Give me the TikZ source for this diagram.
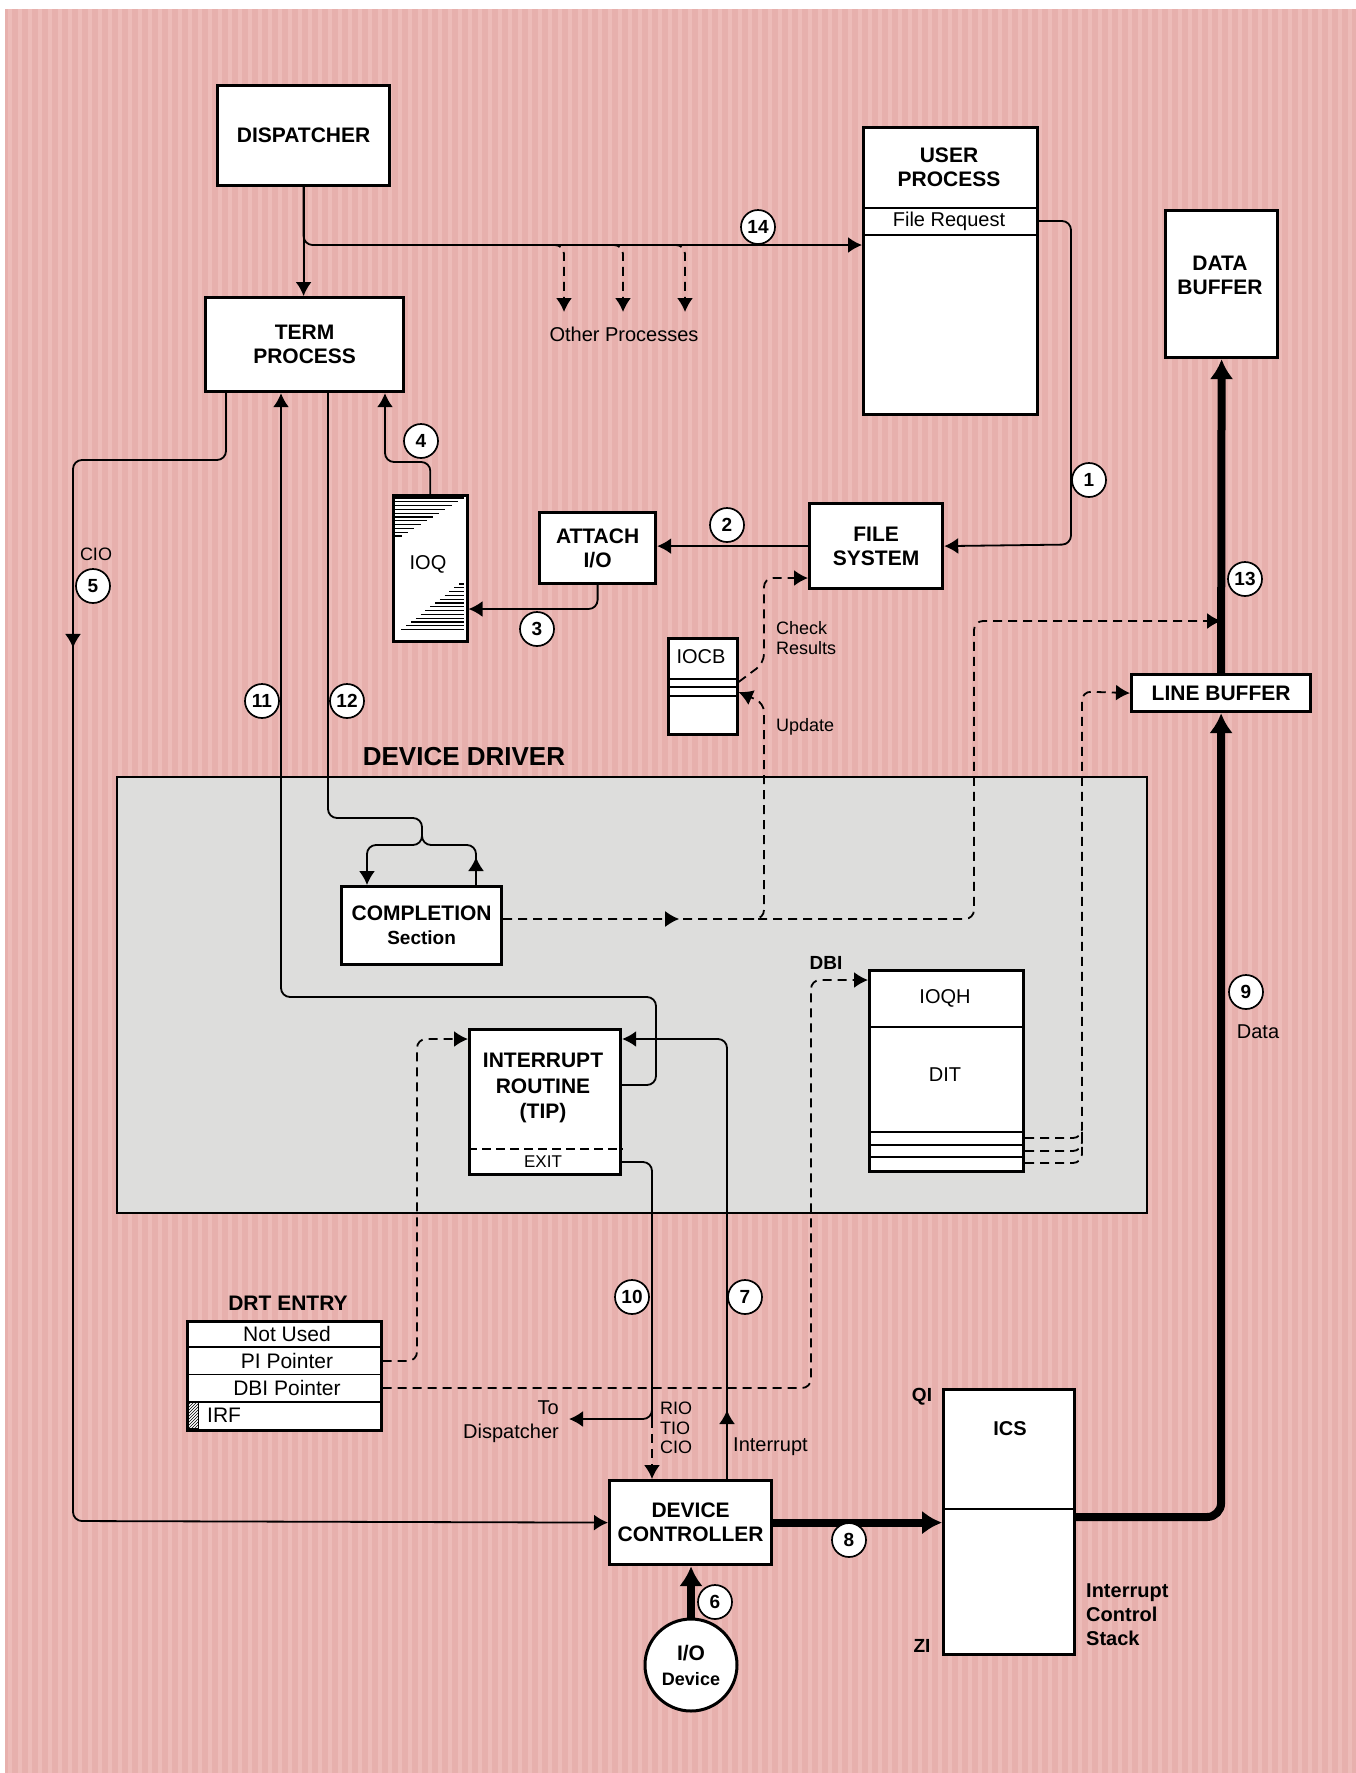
\documentclass[tikz,border=0pt]{standalone}
\usepackage{fontspec}
\setmainfont{Liberation Sans}
\usetikzlibrary{arrows.meta,decorations.markings,patterns,shapes.geometric}
\definecolor{bgpink}{RGB}{231,176,173}
\definecolor{stripepink}{RGB}{237,188,185}
\definecolor{ddgray}{RGB}{221,221,220}
\begin{document}
\begin{tikzpicture}[x=1pt,y=-1pt,
  box/.style={draw, line width=3.2pt, fill=white, inner sep=0pt, align=center, anchor=north west,
              font=\bfseries\fontsize{21}{24}\selectfont},
  btext/.style={inner sep=0pt, align=center, font=\bfseries\fontsize{21}{24}\selectfont},
  lbl/.style={inner sep=0pt, align=center, font=\fontsize{20}{22}\selectfont},
  slbl/.style={inner sep=0pt, align=left, font=\fontsize{18}{20}\selectfont},
  conn/.style={line width=1.8pt, rounded corners=9pt},
  dconn/.style={conn, dash pattern=on 9pt off 6pt},
  arr/.style={-{Latex[length=14pt,width=16pt]}},
  midarr/.style={postaction={decorate, decoration={markings, mark=at position #1 with {\arrow{Latex[length=14pt,width=16pt]}}}}},
  thickc/.style={line width=8pt, -{Latex[length=20pt,width=24pt]}},
  num/.style={circle, draw, line width=1.7pt, fill=white, minimum size=34pt, inner sep=0pt,
              font=\bfseries\fontsize{19}{19}\selectfont},
  thin/.style={line width=1.6pt}
]
\useasboundingbox (0,0) rectangle (1356,1773);
% background
\fill[white] (0,0) rectangle (1356,1773);
\fill[bgpink] (5,9) rectangle (1356,1773);
\foreach \i in {0,...,134} \fill[stripepink] ({8+10*\i},9) rectangle ({12+10*\i},1773);

% device driver region
\node[draw, fill=ddgray, line width=2.4pt, minimum width=1030pt, minimum height=436pt, inner sep=0pt, anchor=north west] (ddrv) at (116,776) {};
\node[font=\bfseries\fontsize{26}{28}\selectfont, inner sep=0pt] (ddtitle) at (464,757) {DEVICE DRIVER};

% boxes
\node[box, minimum width=172pt, minimum height=100pt] (disp) at (216,84) {DISPATCHER};
\node[box, minimum width=198pt, minimum height=94pt] (term) at (204,296) {TERM\\PROCESS};
\node[box, minimum width=174pt, minimum height=287pt] (user) at (862,126) {};
\node[btext] (usertxt) at (949,167) {USER\\PROCESS};
\draw[thin] (user.west |- 0,208) -- (user.east |- 0,208);
\draw[thin] (user.west |- 0,235) -- (user.east |- 0,235);
\node[lbl] (freq) at (949,221) {File Request};

\node[box, minimum width=112pt, minimum height=147pt] (databuf) at (1164,209) {};
\node[btext] (dbtxt) at (1220,275) {DATA\\BUFFER};

\node[box, minimum width=133pt, minimum height=85pt] (filesys) at (808,502) {FILE\\SYSTEM};
\node[box, minimum width=116pt, minimum height=71pt] (attach) at (538,511) {ATTACH\\I/O};

\node[box, line width=2.6pt, minimum width=74pt, minimum height=146pt] (ioq) at (392,494) {};
\foreach \k in {0,...,10} \draw[line width=1.2pt] (394,{498+3.8*\k}) -- ({464-6.2*\k},{498+3.8*\k});
\foreach \k in {0,...,12} \draw[line width=1.2pt] ({459-4.8*\k},{584+3.8*\k}) -- (464,{584+3.8*\k});
\node[lbl] (ioqtxt) at (428,564) {IOQ};

\node[box, line width=2.6pt, minimum width=69pt, minimum height=96pt] (iocb) at (667,637) {};
\foreach \y in {679,687,696} \draw[thin] (iocb.west |- 0,\y) -- (iocb.east |- 0,\y);
\node[lbl] (iocbtxt) at (701,657) {IOCB};

\node[box, minimum width=179pt, minimum height=37pt] (linebuf) at (1130,673) {LINE BUFFER};

\node[box, minimum width=160pt, minimum height=78pt] (compl) at (340,885) {COMPLETION\\{\fontsize{19}{22}\selectfont Section}};

\node[box, minimum width=151pt, minimum height=145pt] (intr) at (468,1028) {};
\node[btext, font=\bfseries\fontsize{21}{25.5}\selectfont] (intrtxt) at (543,1088) {INTERRUPT\\ROUTINE\\(TIP)};
\draw[thin, dash pattern=on 9pt off 5pt] (intr.west |- 0,1149) -- (intr.east |- 0,1149);
\node[lbl, font=\fontsize{17}{19}\selectfont] (exit) at (543,1162) {EXIT};

\node[box, minimum width=154pt, minimum height=201pt] (dit) at (868,969) {};
\draw[thin] (dit.west |- 0,1027) -- (dit.east |- 0,1027);
\foreach \y in {1132,1145,1157} \draw[line width=2pt] (dit.west |- 0,\y) -- (dit.east |- 0,\y);
\node[lbl] (ioqh) at (945,998) {IOQH};
\node[lbl] (dittxt) at (945,1075) {DIT};
\node[btext, font=\bfseries\fontsize{19}{21}\selectfont] (dbi) at (826,963) {DBI};

\node[box, minimum width=162pt, minimum height=84pt] (dc) at (608,1479) {DEVICE\\CONTROLLER};

\node[box, minimum width=131pt, minimum height=265pt] (ics) at (942,1388) {};
\draw[line width=1.4pt] (ics.west |- 0,1509) -- (ics.east |- 0,1509);
\node[btext, font=\bfseries\fontsize{20}{22}\selectfont] (icstxt) at (1010,1429) {ICS};
\node[btext, font=\bfseries\fontsize{19}{21}\selectfont] (qi) at (922,1397) {QI};
\node[btext, font=\bfseries\fontsize{19}{21}\selectfont] (zi) at (922,1646) {ZI};
\node[btext, align=left, anchor=north west, font=\bfseries\fontsize{20}{24}\selectfont] (icsname) at (1086,1584) {Interrupt\\Control\\Stack};

\node[draw, circle, line width=3pt, fill=white, minimum size=92pt, inner sep=0pt, align=center,
      font=\bfseries\fontsize{21}{25}\selectfont] (iodev) at (691,1665) {I/O\\{\fontsize{18}{20}\selectfont Device}};

% DRT entry
\node[btext] (drttitle) at (288,1303) {DRT ENTRY};
\node[box, line width=2.6pt, minimum width=194pt, minimum height=109pt] (drt) at (186,1320) {};
\foreach \y in {1347.25,1374.5,1401.75} \draw[line width=1.8pt] (drt.west |- 0,\y) -- (drt.east |- 0,\y);
\node[lbl, font=\fontsize{21}{23}\selectfont] (nu) at (287,1334) {Not Used};
\node[lbl, font=\fontsize{21}{23}\selectfont] (pip) at (287,1361) {PI Pointer};
\node[lbl, font=\fontsize{21}{23}\selectfont] (dbip) at (287,1388) {DBI Pointer};
\node[lbl, font=\fontsize{21}{23}\selectfont, anchor=west] (irf) at (207,1415) {IRF};
\draw[line width=1pt, pattern=north east lines] (187.5,1402.5) rectangle (198,1428);

% ---------------- connectors ----------------
\coordinate (j14) at (302,245);
\draw[conn,arr] (disp.south) -- (disp.south |- term.north);
\draw[conn,arr] (disp.south) |- (user.west |- j14);
\foreach \x/\n in {564/op1,623/op2,685/op3} {
  \coordinate (\n) at (\x,312);
  \draw[dconn,arr] ({\x-12},245) -| (\n);
}
\node[lbl] (otherp) at (624,334) {Other Processes};

% 1
\draw[conn,arr] (user.east |- freq) -- (1071,221) -- (1071,544.5) -- (filesys.east);
% 2
\draw[conn,arr] (filesys.west) -- (filesys.west -| attach.east);
% 3
\draw[conn,arr] (attach.south) |- (ioq.east |- 0,609);
% 4
\draw[conn,arr] (ioq.north) |- (385,462) -- (term.south -| 385,0);
% 5
\draw[conn,arr,midarr=400pt] (term.south -| 226,0) -- (226,460) -- (73,460) -- (73,1521) -- (dc.west);
\node[slbl] (cio5) at (96,554) {CIO};
% 11
\draw[conn,arr] (intr.east |- 0,1085) -- (656,1085) -- (656,997) -- (281,997) -- (term.south -| 281,0);
% 12
\draw[conn,arr] (term.south -| 328,0) -- (328,818) -- (422,818) -- (422,845) -- (367,845) -- (compl.north -| 367,0);
\draw[conn,midarr=28pt] (compl.north -| 476,0) -- (476,845) -- (422,845) -- (422,830);
% 7
\draw[conn,arr,midarr=69pt] (dc.north -| 727,0) -- (727,1039) -- (intr.east |- 0,1039);
\node[lbl, anchor=west] (intlbl) at (733,1447) {Interrupt};
% 10
\draw[conn] (intr.east |- 0,1162) -- (652,1162) -- (652,1419);
\draw[dconn,arr] (652,1419) -- (dc.north -| 652,0);
\coordinate (todisp) at (569,1419);
\draw[conn,arr] (652,1398) |- (todisp);
\node[lbl, align=right, anchor=east, font=\fontsize{20}{24}\selectfont] (todtxt) at (559,1422) {To\\Dispatcher};
\node[slbl, anchor=west, font=\fontsize{18}{19.5}\selectfont] (riotxt) at (660,1428) {RIO\\TIO\\CIO};

% thick data paths
\draw[thickc] (dc.east) -- (dc.east -| ics.west);
\draw[thickc, rounded corners=14pt] (ics.east |- 0,1517) -| (linebuf.south);
\draw[thickc] (linebuf.north) -- (databuf.south);
\draw[thickc] (iodev.north) -- (iodev.north |- dc.south);
\node[lbl] (datatxt) at (1258,1032) {Data};

% dashed paths
\draw[dconn,arr,midarr=176pt] (compl.east |- 0,919) -- (974,919) -- (974,621) -- (linebuf.north |- 0,621);
\draw[dconn,arr] (745,919) -| (764,703) -- (iocb.east |- 0,692);
\draw[dconn,arr] (iocb.east |- 0,682) -- (764,663) -- (764,578) -- (filesys.west |- 0,578);
\node[slbl, anchor=west, font=\fontsize{18}{20}\selectfont] (chk) at (776,638) {Check\\Results};
\node[slbl, anchor=west] (upd) at (776,727) {Update};
\draw[dconn,arr] (dit.east |- 0,1138) -| (1082,691.5) -- (linebuf.west);
\draw[dconn] (dit.east |- 0,1151) -| (1082,1128);
\draw[dconn] (dit.east |- 0,1163) -| (1082,1128);
\draw[dconn,arr] (drt.east |- 0,1388) -| (811,980) -- (dit.west |- 0,980);
\draw[dconn,arr] (drt.east |- 0,1361) -| (417,1039) -- (intr.west |- 0,1039);

% numbered circles
\node[num] (n1) at (1089,480) {1};
\node[num] (n2) at (727,525) {2};
\node[num] (n3) at (537,629) {3};
\node[num] (n4) at (421,441) {4};
\node[num] (n5) at (93,586) {5};
\node[num] (n6) at (715,1602) {6};
\node[num] (n7) at (745,1297) {7};
\node[num] (n8) at (849,1540) {8};
\node[num] (n9) at (1246,992) {9};
\node[num] (n10) at (632,1297) {10};
\node[num] (n11) at (262,701) {11};
\node[num] (n12) at (347,701) {12};
\node[num] (n13) at (1245,579) {13};
\node[num] (n14) at (758,227) {14};
\end{tikzpicture}
\end{document}
